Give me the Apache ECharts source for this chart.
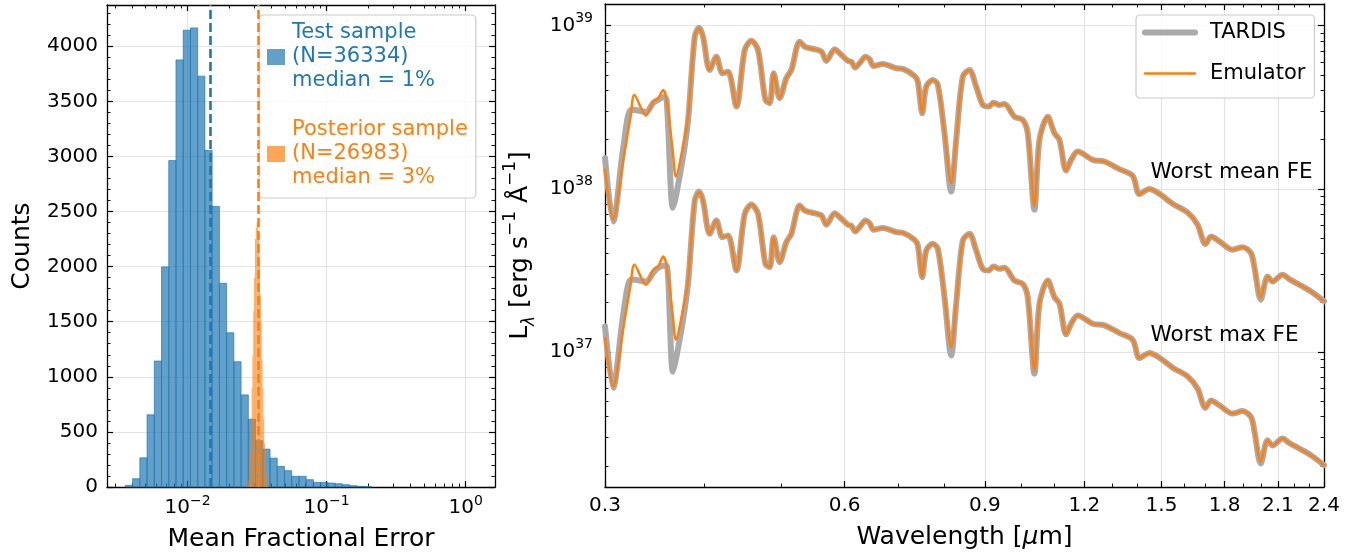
<!DOCTYPE html>
<html>
<head>
<meta charset="utf-8">
<script src="https://cdn.jsdelivr.net/npm/echarts@6/dist/echarts.min.js"></script>
<style>
  html, body { margin: 0; padding: 0; background: #fff; }
  #chart { width: 1364px; height: 556px; }
</style>
</head>
<body>
<div id="chart"></div>
<script>
// ---------- Left panel: distribution of the mean fractional error ----------
// Bin edges are given as log10(fractional error); counts per bin.
const testBinLogEdges = [-2.447,-2.395,-2.343,-2.291,-2.239,-2.187,-2.135,-2.083,-2.031,-1.979,
  -1.927,-1.875,-1.823,-1.771,-1.719,-1.667,-1.615,-1.563,-1.511,-1.459,-1.407,-1.355,-1.303,
  -1.251,-1.199,-1.147,-1.095,-1.043,-0.991,-0.939,-0.887,-0.835,-0.783,-0.731,-0.679];
const testCounts = [15,75,265,655,1143,1997,2962,3876,4145,4166,3728,3053,2546,1849,1400,1137,
  836,615,420,344,262,187,148,97,97,66,42,42,36,30,21,12,6,3];

const postBinLogEdges = [-1.575,-1.569,-1.563,-1.557,-1.551,-1.545,-1.539,-1.533,-1.527,-1.521,
  -1.515,-1.509,-1.503,-1.497,-1.491,-1.485,-1.479,-1.473,-1.467,-1.461,-1.455,-1.449,-1.443,
  -1.437,-1.431,-1.425,-1.419];
const postCounts = [5,20,60,160,330,560,900,1200,1600,1900,2250,2350,2400,2380,2250,2050,1750,
  1500,1150,900,620,400,230,120,50,15];

const sampleNames = ['Test sample', 'Posterior sample'];
const sampleSizes = [36334, 26983];
const samplePct = ['1%', '3%'];
const medianFE = [0.01456, 0.0322];

const feTickValues = [0.01, 0.1, 1];
const countTickValues = [0, 500, 1000, 1500, 2000, 2500, 3000, 3500, 4000];

// ---------- Right panel: spectra (wavelength in micron, log10 L_lambda) ----------
const wavelength = [0.3000,0.3072,0.3160,0.3230,0.3266,0.3377,0.3449,0.3499,0.3550,0.3585,
  0.3650,0.3682,0.3760,0.3815,0.3889,0.3938,0.3983,0.4061,0.4140,0.4213,
  0.4282,0.4387,0.4494,0.4581,0.4670,0.4771,0.4830,0.4886,0.4972,0.5069,
  0.5143,0.5268,0.5345,0.5423,0.5609,0.5691,0.5829,0.5914,0.6057,0.6117,
  0.6187,0.6264,0.6374,0.6448,0.6523,0.6700,0.6966,0.7100,0.7344,0.7414,
  0.7509,0.7596,0.7742,0.7855,0.8008,0.8165,0.8284,0.8444,0.8609,0.8777,
  0.8946,0.9103,0.9227,0.9389,0.9525,0.9804,1.0042,1.0188,1.0387,1.0539,
  1.0795,1.1006,1.1166,1.1384,1.1550,1.1772,1.2296,1.2718,1.3281,1.3802,
  1.4072,1.4484,1.4909,1.5493,1.6180,1.6654,1.7029,1.7312,1.7732,1.8426,
  1.8966,1.9431,1.9617,1.9989,2.0386,2.0682,2.1288,2.1704,2.2555,2.3215,2.4000];

const tardisMeanLogL = [38.189,37.799,38.238,38.483,38.483,38.471,38.526,38.545,38.563,38.545,
  37.883,37.952,38.197,38.420,38.933,38.988,38.933,38.729,38.810,38.708,
  38.718,38.504,38.851,38.908,38.851,38.545,38.525,38.708,38.555,38.678,
  38.729,38.902,38.871,38.862,38.841,38.784,38.855,38.831,38.784,38.779,
  38.743,38.770,38.810,38.794,38.753,38.765,38.739,38.735,38.692,38.657,
  38.463,38.626,38.667,38.637,38.341,37.983,38.300,38.688,38.729,38.626,
  38.514,38.504,38.528,38.514,38.520,38.442,38.422,38.341,37.871,38.300,
  38.442,38.341,38.300,38.112,38.177,38.228,38.177,38.167,38.120,38.079,
  37.967,37.998,37.969,37.908,37.854,37.779,37.661,37.707,37.677,37.626,
  37.642,37.605,37.523,37.320,37.462,37.431,37.473,37.446,37.401,37.364,37.310];

const emuMeanLogL = [38.116,37.810,38.165,38.441,38.575,38.449,38.534,38.555,38.606,38.545,
  38.226,38.075,38.259,38.442,38.933,38.984,38.933,38.729,38.810,38.708,
  38.718,38.504,38.851,38.908,38.851,38.545,38.525,38.708,38.555,38.678,
  38.729,38.902,38.871,38.862,38.841,38.784,38.855,38.831,38.784,38.779,
  38.743,38.770,38.810,38.794,38.753,38.765,38.739,38.735,38.692,38.657,
  38.463,38.626,38.667,38.637,38.341,38.034,38.300,38.688,38.729,38.626,
  38.514,38.504,38.528,38.514,38.520,38.442,38.422,38.341,37.891,38.300,
  38.442,38.341,38.300,38.112,38.177,38.228,38.177,38.167,38.120,38.079,
  37.967,37.998,37.969,37.908,37.854,37.779,37.661,37.707,37.677,37.626,
  37.642,37.605,37.523,37.332,37.462,37.431,37.473,37.446,37.401,37.364,37.310];

const tardisMaxLogL = [37.156,36.780,37.217,37.442,37.442,37.430,37.485,37.515,37.528,37.528,
  36.878,36.952,37.197,37.424,37.928,37.983,37.928,37.724,37.805,37.703,
  37.713,37.499,37.846,37.903,37.846,37.540,37.520,37.703,37.550,37.673,
  37.724,37.897,37.866,37.857,37.836,37.779,37.850,37.826,37.779,37.774,
  37.738,37.765,37.805,37.789,37.748,37.760,37.734,37.730,37.687,37.652,
  37.458,37.621,37.662,37.632,37.336,36.978,37.295,37.683,37.724,37.621,
  37.509,37.499,37.523,37.509,37.515,37.437,37.417,37.336,36.866,37.295,
  37.437,37.336,37.295,37.107,37.172,37.223,37.172,37.162,37.115,37.074,
  36.962,36.993,36.964,36.903,36.849,36.774,36.656,36.702,36.672,36.621,
  36.637,36.600,36.518,36.315,36.457,36.426,36.468,36.441,36.396,36.359,36.305];

const emuMaxLogL = [37.085,36.788,37.136,37.411,37.534,37.411,37.503,37.523,37.585,37.528,
  37.221,37.074,37.258,37.438,37.928,37.979,37.928,37.724,37.805,37.703,
  37.713,37.499,37.846,37.903,37.846,37.540,37.520,37.703,37.550,37.673,
  37.724,37.897,37.866,37.857,37.836,37.779,37.850,37.826,37.779,37.774,
  37.738,37.765,37.805,37.789,37.748,37.760,37.734,37.730,37.687,37.652,
  37.458,37.621,37.662,37.632,37.336,37.029,37.295,37.683,37.724,37.621,
  37.509,37.499,37.523,37.509,37.515,37.437,37.417,37.336,36.886,37.295,
  37.437,37.336,37.295,37.107,37.172,37.223,37.172,37.162,37.115,37.074,
  36.962,36.993,36.964,36.903,36.849,36.774,36.656,36.702,36.672,36.621,
  36.637,36.600,36.518,36.327,36.457,36.426,36.468,36.441,36.396,36.359,36.305];

const waveTickValues = [0.3, 0.6, 0.9, 1.2, 1.5, 1.8, 2.1, 2.4];
const lumTickExponents = [37, 38, 39];

// text labels anchored in data coordinates (wavelength, log10 L)
const spectrumNotes = [
  { text: 'Worst mean FE', wave: 1.453, logL: 38.098 },
  { text: 'Worst max FE',  wave: 1.453, logL: 37.102 }
];

// ---------- styling ----------
const FONT = 'DejaVu Sans';
const BLUE = '#1f77b4';
const ORANGE = '#ff7f0e';
const GRID_LINE = '#e3e3e3';
const log10 = Math.log10;

// minor tick positions for the log axes
function logMinors(lo, hi) {
  const out = [];
  for (let e = Math.floor(lo); e <= Math.ceil(hi); e++) {
    for (let k = 2; k <= 9; k++) {
      const v = e + log10(k);
      if (v >= lo && v <= hi) out.push(v);
    }
  }
  return out;
}

const supRich = {
  b: { fontSize: 20, fontFamily: FONT, color: '#000', lineHeight: 28 },
  s: { fontSize: 14, fontFamily: FONT, color: '#000', lineHeight: 16, verticalAlign: 'top' }
};
function powLabel(v) {
  const e = Math.round(v);
  return '{b|10}{s|' + (e < 0 ? '\u2212' + (-e) : e) + '}';
}

// Builds the four axes for one direction of a panel: labelled major, minor,
// and the mirrored major/minor ticks on the opposite frame edge.
function frameAxes(dim, gridIndex, min, max, majors, minors, label, extra) {
  const main = dim === 'x' ? 'bottom' : 'left';
  const opp = dim === 'x' ? 'top' : 'right';
  const frameLine = { show: true, onZero: false, lineStyle: { color: '#000', width: 1.3 } };
  const noLine = { show: false, onZero: false };
  const majorTick = vals => ({ show: true, inside: true, length: 6, customValues: vals,
    lineStyle: { color: '#000', width: 1.2 } });
  const minorTick = vals => ({ show: true, inside: true, length: 3.5, customValues: vals,
    lineStyle: { color: '#000', width: 0.9 } });
  const base = { type: 'value', gridIndex, min, max, silent: true };
  return [
    Object.assign({}, base, {
      position: main, axisLine: frameLine, axisTick: majorTick(majors),
      axisLabel: Object.assign({ show: true, customValues: majors, fontSize: 20,
        fontFamily: FONT, color: '#000' }, label),
      splitLine: { show: true, lineStyle: { color: GRID_LINE, width: 1.2 } }
    }, extra),
    Object.assign({}, base, { position: main, axisLine: noLine, axisTick: minorTick(minors),
      axisLabel: { show: false }, splitLine: { show: false } }),
    Object.assign({}, base, { position: opp, axisLine: frameLine, axisTick: majorTick(majors),
      axisLabel: { show: false }, splitLine: { show: false } }),
    Object.assign({}, base, { position: opp, axisLine: noLine, axisTick: minorTick(minors),
      axisLabel: { show: false }, splitLine: { show: false } })
  ];
}

// left panel extents
const FE_MIN = -2.579, FE_MAX = 0.2105, COUNT_MAX = 4374;
// right panel extents
const WAVE_MIN = log10(0.3), WAVE_MAX = log10(2.4), LUM_MIN = 36.171, LUM_MAX = 39.133;

const countMinors = [];
for (let c = 100; c < COUNT_MAX; c += 100) if (c % 500 !== 0) countMinors.push(c);
const waveMinors = [0.4,0.5,0.7,0.8,1.0,1.1,1.3,1.4,1.6,1.7,1.9,2.0,2.2,2.3].map(log10);

const axisNameStyle = { fontSize: 25, fontFamily: FONT, color: '#000' };

const xAxes = [].concat(
  frameAxes('x', 0, FE_MIN, FE_MAX, feTickValues.map(log10), logMinors(FE_MIN, FE_MAX),
    { formatter: powLabel, rich: supRich, margin: 7 },
    { name: 'Mean Fractional Error', nameLocation: 'middle', nameGap: 40,
      nameTextStyle: axisNameStyle }),
  frameAxes('x', 1, WAVE_MIN, WAVE_MAX, waveTickValues.map(log10), waveMinors,
    { formatter: v => Math.pow(10, v).toFixed(1), margin: 9 },
    { name: 'Wavelength [{i|\u03bc}m]', nameLocation: 'middle', nameGap: 38,
      nameTextStyle: Object.assign({}, axisNameStyle, {
        rich: { i: { fontSize: 25, fontFamily: FONT, fontStyle: 'italic', color: '#000' } } }) })
);

const yAxes = [].concat(
  frameAxes('y', 0, 0, COUNT_MAX, countTickValues, countMinors,
    { margin: 9, formatter: v => String(Math.round(v)) },
    { name: 'Counts', nameLocation: 'middle', nameGap: 72, nameTextStyle: axisNameStyle }),
  frameAxes('y', 1, LUM_MIN, LUM_MAX, lumTickExponents, logMinors(LUM_MIN, LUM_MAX),
    { formatter: powLabel, rich: supRich, margin: 12 },
    { name: '{n|L}{sub|\u03bb}{n| [erg s}{sup|\u22121}{n| \u00c5}{sup|\u22121}{n|]}',
      nameLocation: 'middle', nameGap: 67,
      nameTextStyle: { rich: {
        n: { fontSize: 25, fontFamily: FONT, color: '#000', lineHeight: 36 },
        sub: { fontSize: 17, fontFamily: FONT, fontStyle: 'italic', color: '#000',
               lineHeight: 20, verticalAlign: 'bottom' },
        sup: { fontSize: 17, fontFamily: FONT, color: '#000', lineHeight: 20, verticalAlign: 'top' }
      } } })
);

function histogramSeries(name, logEdges, counts, fill, stroke, median, lineColor) {
  return {
    type: 'custom', name, xAxisIndex: 0, yAxisIndex: 0, silent: true,
    itemStyle: { color: fill },
    data: counts.map((c, i) => [logEdges[i], logEdges[i + 1], c]),
    encode: { x: [0, 1], y: 2 },
    renderItem(params, api) {
      const top = api.coord([api.value(0), api.value(2)]);
      const bottom = api.coord([api.value(1), 0]);
      return {
        type: 'rect',
        shape: { x: top[0], y: top[1], width: bottom[0] - top[0], height: bottom[1] - top[1] },
        style: { fill, stroke, lineWidth: stroke ? 0.8 : 0 }
      };
    },
    markLine: {
      silent: true, symbol: ['none', 'none'], label: { show: false },
      lineStyle: { color: lineColor, width: 2.6, type: [9, 4], opacity: 1 },
      data: [{ xAxis: log10(median) }]
    }
  };
}

function spectrumSeries(name, logL, color, width) {
  return {
    type: 'line', name, xAxisIndex: 4, yAxisIndex: 4, silent: true,
    symbol: 'none', showSymbol: false, smooth: 0.3,
    itemStyle: { color },
    lineStyle: { color, width, join: 'round', cap: 'round' },
    data: wavelength.map((w, i) => [log10(w), logL[i]])
  };
}

const option = {
  animation: false,
  backgroundColor: '#fff',
  textStyle: { fontFamily: FONT },
  grid: [
    { left: 107, right: 869, top: 5, bottom: 69, outerBoundsMode: 'none' },
    { left: 605, right: 40, top: 4, bottom: 69, outerBoundsMode: 'none' }
  ],
  xAxis: xAxes,
  yAxis: yAxes,
  legend: [
    {
      left: 259, top: 15, orient: 'vertical', selectedMode: false,
      icon: 'rect', itemWidth: 18, itemHeight: 16, itemGap: 25,
      padding: [6, 8, 8, 8],
      backgroundColor: 'rgba(255,255,255,0.8)', borderColor: '#cccccc', borderWidth: 1.2,
      borderRadius: 4,
      textStyle: { fontSize: 21, fontFamily: FONT, lineHeight: 24, padding: [0, 0, 0, 2] },
      formatter: name => {
        const i = sampleNames.indexOf(name);
        return name + '\n(N=' + sampleSizes[i] + ')\nmedian = ' + samplePct[i];
      },
      data: [
        { name: sampleNames[0], textStyle: { color: BLUE } },
        { name: sampleNames[1], textStyle: { color: ORANGE } }
      ]
    },
    {
      left: 1136, top: 15, orient: 'vertical', selectedMode: false,
      itemWidth: 50, itemHeight: 14, itemGap: 20,
      padding: [7, 9, 14, 6],
      backgroundColor: 'rgba(255,255,255,0.8)', borderColor: '#cccccc', borderWidth: 1.2,
      borderRadius: 4,
      textStyle: { fontSize: 21, fontFamily: FONT, color: '#000', padding: [0, 0, 0, 10] },
      data: [
        { name: 'TARDIS', lineStyle: { width: 6, color: '#aaaaaa' }, itemStyle: { opacity: 0 } },
        { name: 'Emulator', lineStyle: { width: 2.5, color: ORANGE }, itemStyle: { opacity: 0 } }
      ]
    }
  ],
  series: [
    histogramSeries(sampleNames[0], testBinLogEdges, testCounts,
      'rgba(31,119,180,0.7)', 'rgba(31,119,180,0.85)', medianFE[0], BLUE),
    histogramSeries(sampleNames[1], postBinLogEdges, postCounts,
      'rgba(255,127,14,0.7)', null, medianFE[1], ORANGE),
    spectrumSeries('TARDIS', tardisMeanLogL, '#aaaaaa', 6),
    spectrumSeries('Emulator', emuMeanLogL, ORANGE, 2.5),
    spectrumSeries('TARDIS', tardisMaxLogL, '#aaaaaa', 6),
    spectrumSeries('Emulator', emuMaxLogL, ORANGE, 2.5)
  ]
};

const chart = echarts.init(document.getElementById('chart'), null, { renderer: 'canvas' });
chart.setOption(option);

// place the two spectrum captions through the right panel's axes
chart.setOption({
  graphic: spectrumNotes.map(n => {
    const p = chart.convertToPixel({ xAxisIndex: 4, yAxisIndex: 4 }, [log10(n.wave), n.logL]);
    return {
      type: 'text', x: p[0], y: p[1], silent: true, z: 10,
      style: { text: n.text, fill: '#000', fontSize: 21.5, fontFamily: FONT,
               align: 'left', verticalAlign: 'middle' }
    };
  })
});
</script>
</body>
</html>
